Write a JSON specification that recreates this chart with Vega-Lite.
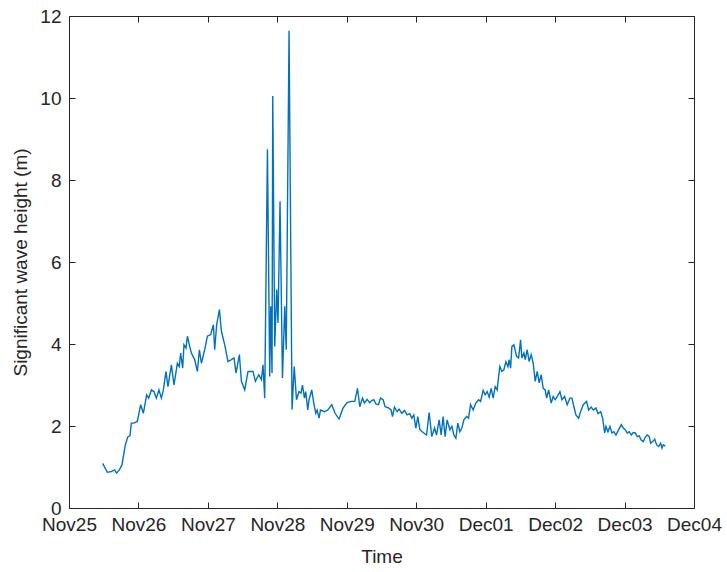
{
  "$schema": "https://vega.github.io/schema/vega-lite/v6.json",
  "width": 625,
  "height": 492,
  "autosize": "none",
  "padding": {"left": 69, "top": 16, "right": 33, "bottom": 64},
  "background": "white",
  "config": {
    "view": {"stroke": null},
    "axis": {
      "grid": false,
      "domainColor": "#262626",
      "tickColor": "#262626",
      "labelColor": "#262626",
      "titleColor": "#262626",
      "labelFont": "Liberation Sans",
      "titleFont": "Liberation Sans",
      "labelFontSize": 19,
      "titleFontSize": 19,
      "titleFontWeight": "normal",
      "tickSize": -6,
      "domainWidth": 1,
      "tickWidth": 1
    }
  },
  "data": {"values": [
    {"time":"2019-11-25T11:37","hs":1.09},{"time":"2019-11-25T13:15","hs":0.87},{"time":"2019-11-25T14:38","hs":0.89},{"time":"2019-11-25T15:46","hs":0.93},{"time":"2019-11-25T16:28","hs":0.85},{"time":"2019-11-25T17:24","hs":0.93},{"time":"2019-11-25T18:18","hs":1.05},{"time":"2019-11-25T19:28","hs":1.54},{"time":"2019-11-25T20:22","hs":1.74},{"time":"2019-11-25T21:04","hs":1.76},{"time":"2019-11-25T21:33","hs":2.07},{"time":"2019-11-25T22:27","hs":2.07},{"time":"2019-11-25T23:37","hs":2.11},
    {"time":"2019-11-26T00:46","hs":2.52},{"time":"2019-11-26T01:42","hs":2.31},{"time":"2019-11-26T02:50","hs":2.76},{"time":"2019-11-26T03:32","hs":2.68},{"time":"2019-11-26T04:28","hs":2.88},{"time":"2019-11-26T05:22","hs":2.84},{"time":"2019-11-26T06:11","hs":2.68},{"time":"2019-11-26T07:05","hs":2.88},{"time":"2019-11-26T07:55","hs":2.68},{"time":"2019-11-26T08:37","hs":2.88},{"time":"2019-11-26T09:31","hs":3.33},{"time":"2019-11-26T10:12","hs":2.96},{"time":"2019-11-26T11:23","hs":3.49},{"time":"2019-11-26T12:17","hs":3.0},{"time":"2019-11-26T13:27","hs":3.53},{"time":"2019-11-26T14:08","hs":3.45},{"time":"2019-11-26T14:35","hs":3.78},{"time":"2019-11-26T15:17","hs":3.41},{"time":"2019-11-26T15:44","hs":3.98},{"time":"2019-11-26T16:26","hs":3.9},{"time":"2019-11-26T16:55","hs":4.19},{"time":"2019-11-26T17:36","hs":3.98},{"time":"2019-11-26T18:17","hs":3.78},{"time":"2019-11-26T19:26","hs":3.62},{"time":"2019-11-26T20:22","hs":3.33},{"time":"2019-11-26T21:04","hs":3.86},{"time":"2019-11-26T21:45","hs":3.53},{"time":"2019-11-26T22:53","hs":3.86},{"time":"2019-11-26T23:50","hs":4.19},
    {"time":"2019-11-27T00:58","hs":4.23},{"time":"2019-11-27T01:54","hs":4.47},{"time":"2019-11-27T02:21","hs":3.86},{"time":"2019-11-27T03:02","hs":4.47},{"time":"2019-11-27T03:59","hs":4.84},{"time":"2019-11-27T04:40","hs":4.31},{"time":"2019-11-27T05:49","hs":3.98},{"time":"2019-11-27T06:57","hs":3.57},{"time":"2019-11-27T08:08","hs":3.62},{"time":"2019-11-27T09:02","hs":3.66},{"time":"2019-11-27T09:43","hs":3.29},{"time":"2019-11-27T10:53","hs":3.74},{"time":"2019-11-27T11:35","hs":3.09},{"time":"2019-11-27T12:44","hs":2.88},{"time":"2019-11-27T13:52","hs":3.33},{"time":"2019-11-27T15:36","hs":3.33},{"time":"2019-11-27T16:26","hs":3.09},{"time":"2019-11-27T17:34","hs":3.25},{"time":"2019-11-27T18:30","hs":3.13},{"time":"2019-11-27T19:03","hs":3.49},{"time":"2019-11-27T19:38","hs":2.68},{"time":"2019-11-27T20:35","hs":8.75},{"time":"2019-11-27T21:22","hs":3.21},{"time":"2019-11-27T21:43","hs":4.92},{"time":"2019-11-27T22:10","hs":3.29},{"time":"2019-11-27T22:25","hs":10.05},{"time":"2019-11-27T23:06","hs":3.94},{"time":"2019-11-27T23:47","hs":5.33},
    {"time":"2019-11-28T00:14","hs":4.51},{"time":"2019-11-28T00:56","hs":7.48},{"time":"2019-11-28T01:46","hs":3.17},{"time":"2019-11-28T02:34","hs":4.92},{"time":"2019-11-28T03:05","hs":3.86},{"time":"2019-11-28T04:03","hs":11.64},{"time":"2019-11-28T05:05","hs":2.4},{"time":"2019-11-28T05:50","hs":3.45},{"time":"2019-11-28T06:37","hs":2.64},{"time":"2019-11-28T07:30","hs":2.84},{"time":"2019-11-28T08:12","hs":2.8},{"time":"2019-11-28T08:41","hs":3.0},{"time":"2019-11-28T09:22","hs":2.68},{"time":"2019-11-28T09:49","hs":2.84},{"time":"2019-11-28T10:31","hs":2.39},{"time":"2019-11-28T10:58","hs":2.64},{"time":"2019-11-28T11:54","hs":2.88},{"time":"2019-11-28T12:35","hs":2.56},{"time":"2019-11-28T13:17","hs":2.31},{"time":"2019-11-28T13:44","hs":2.39},{"time":"2019-11-28T14:25","hs":2.19},{"time":"2019-11-28T14:54","hs":2.39},{"time":"2019-11-28T16:17","hs":2.35},{"time":"2019-11-28T17:26","hs":2.39},{"time":"2019-11-28T18:49","hs":2.52},{"time":"2019-11-28T19:57","hs":2.31},{"time":"2019-11-28T21:20","hs":2.17},{"time":"2019-11-28T22:43","hs":2.44},
    {"time":"2019-11-29T00:06","hs":2.57},{"time":"2019-11-29T01:38","hs":2.6},{"time":"2019-11-29T02:46","hs":2.6},{"time":"2019-11-29T03:42","hs":2.92},{"time":"2019-11-29T04:30","hs":2.47},{"time":"2019-11-29T05:26","hs":2.68},{"time":"2019-11-29T06:07","hs":2.56},{"time":"2019-11-29T07:01","hs":2.65},{"time":"2019-11-29T07:57","hs":2.57},{"time":"2019-11-29T08:39","hs":2.62},{"time":"2019-11-29T09:20","hs":2.64},{"time":"2019-11-29T10:02","hs":2.54},{"time":"2019-11-29T10:58","hs":2.52},{"time":"2019-11-29T11:39","hs":2.68},{"time":"2019-11-29T12:33","hs":2.64},{"time":"2019-11-29T13:15","hs":2.47},{"time":"2019-11-29T14:25","hs":2.44},{"time":"2019-11-29T15:19","hs":2.39},{"time":"2019-11-29T15:48","hs":2.23},{"time":"2019-11-29T16:29","hs":2.46},{"time":"2019-11-29T17:23","hs":2.35},{"time":"2019-11-29T18:05","hs":2.41},{"time":"2019-11-29T19:01","hs":2.31},{"time":"2019-11-29T19:57","hs":2.38},{"time":"2019-11-29T20:51","hs":2.27},{"time":"2019-11-29T21:47","hs":2.3},{"time":"2019-11-29T22:29","hs":2.19},{"time":"2019-11-29T23:10","hs":2.27},{"time":"2019-11-29T23:52","hs":1.95},
    {"time":"2019-11-30T00:33","hs":2.23},{"time":"2019-11-30T01:15","hs":1.91},{"time":"2019-11-30T02:23","hs":1.84},{"time":"2019-11-30T03:34","hs":1.78},{"time":"2019-11-30T04:28","hs":2.33},{"time":"2019-11-30T05:23","hs":1.74},{"time":"2019-11-30T06:20","hs":1.95},{"time":"2019-11-30T07:01","hs":1.78},{"time":"2019-11-30T07:55","hs":2.15},{"time":"2019-11-30T08:37","hs":1.78},{"time":"2019-11-30T09:18","hs":2.23},{"time":"2019-11-30T09:59","hs":1.74},{"time":"2019-11-30T10:41","hs":2.15},{"time":"2019-11-30T11:37","hs":1.91},{"time":"2019-11-30T12:19","hs":1.99},{"time":"2019-11-30T13:00","hs":1.78},{"time":"2019-11-30T13:42","hs":1.7},{"time":"2019-11-30T14:23","hs":2.07},{"time":"2019-11-30T15:05","hs":1.86},{"time":"2019-11-30T15:46","hs":1.95},{"time":"2019-11-30T16:28","hs":2.15},{"time":"2019-11-30T17:24","hs":2.23},{"time":"2019-11-30T18:05","hs":2.19},{"time":"2019-11-30T18:47","hs":2.52},{"time":"2019-11-30T19:41","hs":2.39},{"time":"2019-11-30T20:37","hs":2.56},{"time":"2019-11-30T21:32","hs":2.64},{"time":"2019-11-30T22:14","hs":2.6},{"time":"2019-11-30T23:08","hs":2.87},{"time":"2019-11-30T23:50","hs":2.76},
    {"time":"2019-12-01T00:31","hs":2.84},{"time":"2019-12-01T01:13","hs":2.7},{"time":"2019-12-01T01:54","hs":2.92},{"time":"2019-12-01T02:35","hs":2.68},{"time":"2019-12-01T03:17","hs":2.96},{"time":"2019-12-01T03:59","hs":2.88},{"time":"2019-12-01T04:28","hs":3.21},{"time":"2019-12-01T04:55","hs":3.45},{"time":"2019-12-01T05:36","hs":3.33},{"time":"2019-12-01T06:17","hs":3.37},{"time":"2019-12-01T06:59","hs":3.57},{"time":"2019-12-01T07:41","hs":3.45},{"time":"2019-12-01T08:08","hs":3.62},{"time":"2019-12-01T08:37","hs":3.41},{"time":"2019-12-01T09:04","hs":3.94},{"time":"2019-12-01T09:45","hs":3.98},{"time":"2019-12-01T10:41","hs":3.7},{"time":"2019-12-01T11:23","hs":3.66},{"time":"2019-12-01T12:04","hs":4.1},{"time":"2019-12-01T12:31","hs":3.66},{"time":"2019-12-01T13:13","hs":3.78},{"time":"2019-12-01T13:40","hs":3.62},{"time":"2019-12-01T14:21","hs":3.86},{"time":"2019-12-01T15:02","hs":3.57},{"time":"2019-12-01T15:44","hs":3.74},{"time":"2019-12-01T16:26","hs":3.53},{"time":"2019-12-01T17:07","hs":3.09},{"time":"2019-12-01T17:49","hs":3.33},{"time":"2019-12-01T18:30","hs":3.05},{"time":"2019-12-01T19:11","hs":3.25},{"time":"2019-12-01T19:53","hs":2.92},{"time":"2019-12-01T20:34","hs":2.88},{"time":"2019-12-01T21:04","hs":2.68},{"time":"2019-12-01T21:45","hs":2.88},{"time":"2019-12-01T22:39","hs":2.56},{"time":"2019-12-01T23:20","hs":2.72},
    {"time":"2019-12-02T00:02","hs":2.64},{"time":"2019-12-02T00:44","hs":2.72},{"time":"2019-12-02T01:40","hs":2.84},{"time":"2019-12-02T02:21","hs":2.64},{"time":"2019-12-02T03:17","hs":2.72},{"time":"2019-12-02T04:11","hs":2.52},{"time":"2019-12-02T05:07","hs":2.68},{"time":"2019-12-02T05:49","hs":2.68},{"time":"2019-12-02T06:30","hs":2.47},{"time":"2019-12-02T07:11","hs":2.27},{"time":"2019-12-02T08:08","hs":2.19},{"time":"2019-12-02T08:49","hs":2.35},{"time":"2019-12-02T09:43","hs":2.52},{"time":"2019-12-02T10:53","hs":2.6},{"time":"2019-12-02T11:35","hs":2.39},{"time":"2019-12-02T12:29","hs":2.46},{"time":"2019-12-02T13:11","hs":2.39},{"time":"2019-12-02T14:07","hs":2.44},{"time":"2019-12-02T14:48","hs":2.3},{"time":"2019-12-02T15:44","hs":2.35},{"time":"2019-12-02T16:26","hs":2.19},{"time":"2019-12-02T17:07","hs":1.83},{"time":"2019-12-02T17:34","hs":1.99},{"time":"2019-12-02T18:16","hs":1.86},{"time":"2019-12-02T18:57","hs":1.99},{"time":"2019-12-02T19:38","hs":1.83},{"time":"2019-12-02T20:20","hs":1.86},{"time":"2019-12-02T21:01","hs":1.78},{"time":"2019-12-02T21:58","hs":1.91},{"time":"2019-12-02T22:52","hs":2.03},{"time":"2019-12-02T23:33","hs":1.95},
    {"time":"2019-12-03T00:14","hs":1.91},{"time":"2019-12-03T00:56","hs":1.83},{"time":"2019-12-03T01:37","hs":1.86},{"time":"2019-12-03T02:19","hs":1.78},{"time":"2019-12-03T03:01","hs":1.84},{"time":"2019-12-03T03:42","hs":1.83},{"time":"2019-12-03T04:23","hs":1.74},{"time":"2019-12-03T05:05","hs":1.76},{"time":"2019-12-03T05:46","hs":1.66},{"time":"2019-12-03T06:28","hs":1.62},{"time":"2019-12-03T07:10","hs":1.73},{"time":"2019-12-03T07:51","hs":1.78},{"time":"2019-12-03T08:32","hs":1.74},{"time":"2019-12-03T09:01","hs":1.58},{"time":"2019-12-03T09:43","hs":1.62},{"time":"2019-12-03T10:25","hs":1.68},{"time":"2019-12-03T11:06","hs":1.54},{"time":"2019-12-03T11:47","hs":1.5},{"time":"2019-12-03T12:29","hs":1.58},{"time":"2019-12-03T12:56","hs":1.46},{"time":"2019-12-03T13:23","hs":1.54},{"time":"2019-12-03T14:04","hs":1.51}
  ]},
  "layer": [
    {
      "mark": {"type": "line", "color": "#0072BD", "strokeWidth": 1.4, "clip": true},
      "encoding": {
        "x": {
          "field": "time", "type": "temporal",
          "scale": {"domain": [{"year": 2019, "month": 11, "date": 25}, {"year": 2019, "month": 12, "date": 4}], "nice": false},
          "axis": {"orient": "bottom", "format": "%b%d", "tickCount": {"interval": "day", "step": 1}, "labelOverlap": false, "labelFlush": false, "labelBound": false, "labelPadding": 13, "title": "Time", "titlePadding": 13}
        },
        "y": {
          "field": "hs", "type": "quantitative",
          "scale": {"domain": [0, 12], "nice": false},
          "axis": {"orient": "left", "values": [0, 2, 4, 6, 8, 10, 12], "labelPadding": 14, "title": "Significant wave height (m)", "titlePadding": 9}
        }
      }
    },
    {
      "mark": {"type": "line", "opacity": 0},
      "encoding": {
        "x": {
          "field": "time", "type": "temporal",
          "axis": {"orient": "top", "labels": false, "title": null, "tickCount": {"interval": "day", "step": 1}}
        },
        "y": {
          "field": "hs", "type": "quantitative",
          "axis": {"orient": "right", "labels": false, "title": null, "values": [0, 2, 4, 6, 8, 10, 12]}
        }
      }
    }
  ],
  "resolve": {"axis": {"x": "independent", "y": "independent"}}
}
